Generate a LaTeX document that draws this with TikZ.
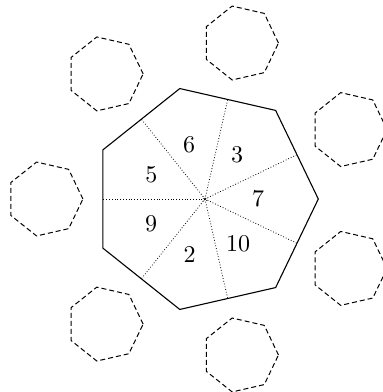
\documentclass[tikz,border=0pt]{standalone}
\usetikzlibrary{calc}
\begin{document}
\begin{tikzpicture}[x=1pt,y=1pt,
  bigpoly/.style={line width=1.1pt,line join=miter},
  smallpoly/.style={line width=1pt,dash pattern=on 5pt off 3pt},
  apothem/.style={line width=0.8pt,dotted},
  numlbl/.style={font=\normalsize,inner sep=0pt,scale=2.4,transform shape}]
\useasboundingbox (0,0) rectangle (383,392);
\coordinate (c) at (205,193);
% main heptagon vertices
\foreach \k in {0,...,6}{
  \coordinate (v\k) at ($(c)+({\k*360/7}:113.3)$);
  \coordinate (m\k) at ($(c)+({(\k+0.5)*360/7}:113.3*0.90097)$);
}
\draw[bigpoly] (v0)--(v1)--(v2)--(v3)--(v4)--(v5)--(v6)--cycle;
\foreach \k in {0,...,6}{
  \draw[apothem] (c) -- (m\k);
}
\node[draw,circle,dotted,line width=0.6pt,minimum size=4pt,inner sep=0pt] (ctr) at (c) {};
% labels
\node[numlbl] (l7) at (258,193) {7};
\node[numlbl] (l3) at (237,237.5) {3};
\node[numlbl] (l6) at (189,247.5) {6};
\node[numlbl] (l5) at (151.5,217) {5};
\node[numlbl] (l9) at (151,168.5) {9};
\node[numlbl] (l2) at (189.5,137) {2};
\node[numlbl] (l10) at (238,148.7) {10};
% small heptagons
\foreach \k in {0,...,6}{
  \coordinate (s\k) at ($(c)+({(\k+0.5)*360/7}:160)$);
  \draw[smallpoly] ($(s\k)+(0:37.9)$)
    \foreach \j in {1,...,6}{ -- ($(s\k)+({\j*360/7}:37.9)$) } -- cycle;
}
\end{tikzpicture}
\end{document}
